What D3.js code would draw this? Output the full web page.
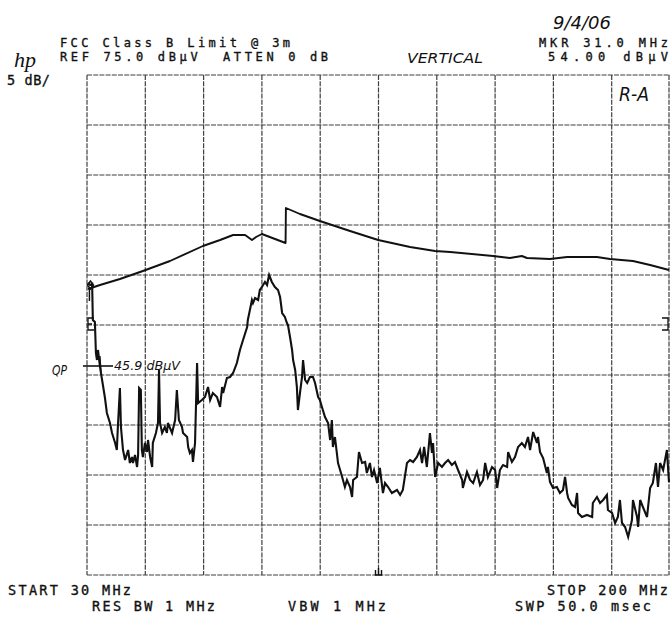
<!DOCTYPE html>
<html>
<head>
<meta charset="utf-8">
<script src="https://cdn.jsdelivr.net/npm/d3@7/dist/d3.min.js"></script>
<style>
  html, body { margin: 0; padding: 0; background: #fff; }
  svg { display: block; }
  .plot { font-family: "DejaVu Sans Mono", monospace; font-size: 13.5px; fill: #111; stroke: #111; stroke-width: 0.35px; }
  .plot.tight { font-size: 12px; }
  .hand { font-family: "DejaVu Sans", sans-serif; font-style: italic; fill: #111; }
</style>
</head>
<body>
<svg id="chart" width="670" height="619"></svg>
<script>
// Sweep settings
const startMHz = 30, stopMHz = 200;
const refLevel = 75, dbPerDiv = 5, divisions = 10;
const markerMHz = 31.0, markerLevel = 54.0;
const qpLevel = 45.9;

// FCC Class B limit (3 m), converted to analyzer input level
const limitFreq = [30.3, 33.8, 39.6, 46.3, 54.2, 63.8, 68.8, 72.6, 76.1, 78.1, 79.3, 81.0, 87.9,
  88.0, 92.1, 97.9, 106.7, 114.9, 124.2, 131.5, 135.9, 148.4, 153.3, 156.8, 158.3, 165.0,
  170.0, 178.7, 182.5, 189.2, 194.2, 199.7];
const limitLevel = [53.6, 54.0, 54.6, 55.4, 56.4, 57.9, 58.5, 59.0, 59.0, 58.5, 58.8, 59.1, 58.2,
  61.7, 61.1, 60.4, 59.4, 58.5, 57.8, 57.4, 57.3, 56.9, 56.7, 56.9, 56.7, 56.6,
  56.8, 56.8, 56.6, 56.4, 56.0, 55.5];

// Measured emission trace, peak detector
const traceFreq = [30.3, 30.9, 31.5, 31.7, 32.3, 32.6, 32.9, 33.2, 33.8, 34.4, 35.2, 35.8, 36.7, 37.3,
  38.2, 38.7, 39.0, 39.6, 39.9, 40.5, 41.1, 42.0, 42.5, 43.1, 43.4, 44.0, 44.6, 44.9, 45.2, 45.7,
  46.0, 46.3, 46.9, 47.5, 47.8, 48.4, 49.0, 49.2, 50.1, 50.7, 51.0, 51.3, 51.9, 52.7, 53.3, 53.6,
  54.8, 55.7, 56.2, 56.8, 57.7, 58.0, 59.2, 59.5, 60.0, 60.6, 60.9, 61.5, 62.1, 62.4, 63.5, 64.4,
  65.3, 65.9, 66.7, 67.9, 68.8, 69.4, 69.7, 70.8, 71.7, 72.6, 73.7, 74.6, 75.5, 76.7, 76.9, 77.5,
  78.1, 78.4, 79.0, 79.9, 80.4, 81.0, 81.9, 82.5, 83.1, 83.9, 84.8, 85.7, 86.3, 86.9, 87.7, 88.3,
  88.6, 89.2, 89.8, 90.1, 90.7, 91.2, 91.5, 92.1, 92.7, 93.0, 93.6, 94.2, 95.0, 95.9, 96.5, 97.4,
  97.9, 98.5, 99.4, 100.3, 100.9, 101.4, 101.7, 102.3, 103.2, 104.4, 105.2, 105.8, 106.7, 107.3,
  107.6, 108.7, 109.3, 110.2, 111.1, 111.6, 112.5, 113.1, 113.7, 114.6, 115.4, 116.3, 116.9, 117.8,
  118.9, 120.4, 121.3, 122.1, 123.3, 124.2, 125.1, 126.2, 127.1, 127.7, 128.3, 129.1, 130.0, 130.6,
  130.9, 131.5, 132.4, 133.5, 134.4, 135.3, 136.4, 137.3, 138.2, 139.4, 139.6, 140.8, 141.7, 142.6,
  143.7, 144.6, 145.5, 146.1, 146.9, 148.1, 149.0, 149.6, 150.4, 151.3, 152.5, 152.8, 153.9, 154.8,
  155.7, 156.8, 157.7, 158.6, 159.2, 160.1, 161.2, 161.5, 162.1, 163.0, 164.1, 164.4, 165.0, 165.9,
  167.0, 167.9, 168.8, 169.4, 170.0, 170.3, 171.4, 172.3, 172.9, 173.2, 174.3, 175.8, 177.3, 177.5,
  178.7, 179.6, 180.5, 181.6, 181.9, 183.1, 184.0, 184.8, 185.4, 186.0, 186.9, 187.8, 188.9, 189.2,
  190.4, 190.7, 191.3, 192.1, 193.3, 194.2, 195.0, 195.9, 196.5, 197.1, 198.0, 199.1, 199.7];
const traceLevel = [54.2, 54.0, 54.1, 50.5, 50.3, 47.2, 46.5, 47.5, 45.8, 44.5, 42.8, 41.2, 40.2, 39.2,
  38.2, 37.5, 39.8, 43.7, 39.8, 37.5, 36.5, 37.5, 36.2, 36.8, 36.2, 37.0, 35.8, 37.0, 43.7, 43.5,
  37.5, 36.8, 38.2, 37.3, 38.5, 36.8, 35.8, 38.2, 39.2, 40.2, 45.5, 40.2, 39.2, 39.8, 39.2, 40.2,
  39.2, 40.5, 43.5, 40.5, 39.8, 39.2, 38.8, 37.8, 37.2, 37.5, 36.3, 38.2, 46.2, 42.2, 42.5, 42.8,
  43.8, 42.5, 43.2, 42.8, 41.8, 43.8, 43.2, 44.7, 44.8, 45.2, 46.2, 47.5, 48.5, 49.8, 50.5, 51.5,
  52.5, 52.2, 52.7, 52.5, 53.5, 53.8, 54.3, 54.0, 55.0, 54.3, 53.8, 53.5, 52.8, 51.2, 50.8, 50.2,
  50.0, 48.8, 47.5, 46.5, 45.5, 43.8, 41.5, 43.2, 44.8, 46.5, 44.5, 44.2, 44.8, 44.8, 44.2, 42.8,
  42.5, 41.8, 40.8, 40.2, 38.5, 40.5, 37.8, 38.8, 36.2, 34.8, 33.8, 34.5, 33.8, 32.8,
  34.5, 34.8, 37.3, 36.2, 36.3, 35.2, 36.2, 34.8, 35.5, 34.2, 35.7, 33.2, 34.2, 33.8,
  33.2, 33.5, 33.0, 33.5, 36.2, 36.5, 36.3, 36.8, 37.5, 36.2, 37.8, 35.8, 39.2, 37.2,
  38.2, 34.8, 36.2, 35.8, 36.2, 36.5, 36.0, 36.3, 35.5, 34.5, 33.7, 35.3, 34.5, 34.2,
  35.3, 34.0, 34.5, 36.2, 34.8, 35.8, 35.5, 33.7, 35.5, 36.0, 35.8, 37.3, 36.3, 36.8,
  37.8, 38.2, 37.8, 38.8, 37.5, 39.3, 38.2, 38.8, 37.3, 36.7, 35.2, 35.8, 34.3, 33.7,
  33.8, 33.2, 33.5, 34.8, 33.2, 32.7, 32.0, 31.8, 33.2, 31.2, 30.8, 31.0, 30.8, 32.2,
  32.8, 32.2, 32.5, 33.0, 31.5, 31.2, 30.2, 30.8, 32.5, 30.2, 29.8, 28.8, 30.5, 32.5,
  30.8, 29.8, 32.5, 31.8, 30.8, 33.7, 34.2, 36.2, 33.8, 36.2, 35.5, 37.5, 34.3];

const svg = d3.select("#chart");
const plot = { left: 87, right: 670, top: 75, bottom: 575 };
const bottomLevel = refLevel - dbPerDiv * divisions;

const x = d3.scaleLinear().domain([startMHz, stopMHz]).range([plot.left, plot.right]);
const y = d3.scaleLinear().domain([bottomLevel, refLevel]).range([plot.bottom, plot.top]);

// Graticule: 10 x 10 divisions, dashed
const fStep = (stopMHz - startMHz) / divisions;
const vLines = d3.range(divisions + 1).map(i => startMHz + i * fStep);
const hLines = d3.range(divisions + 1).map(i => bottomLevel + i * dbPerDiv);

const grid = svg.append("g").attr("stroke", "#111").attr("stroke-width", 1.2)
  .attr("stroke-dasharray", "5 1.2").attr("opacity", 0.8);
grid.selectAll("line.v").data(vLines).join("line").attr("class", "v")
  .attr("x1", d => Math.min(x(d), plot.right - 1)).attr("x2", d => Math.min(x(d), plot.right - 1))
  .attr("y1", plot.top).attr("y2", plot.bottom);
grid.selectAll("line.h").data(hLines).join("line").attr("class", "h")
  .attr("x1", plot.left).attr("x2", plot.right)
  .attr("y1", d => y(d)).attr("y2", d => y(d));

// Centre-frequency tick on the bottom edge
const centre = (startMHz + stopMHz) / 2;
svg.append("path").attr("fill", "none").attr("stroke", "#111").attr("stroke-width", 1.4)
  .attr("d", `M${x(centre) - 3},${plot.bottom - 5}V${plot.bottom}H${x(centre) + 3}V${plot.bottom - 5}M${x(centre)},${plot.bottom - 7}V${plot.bottom}`);

// Display-line brackets on both edges
const brTop = y(50.7), brBot = y(49.5);
svg.append("path").attr("fill", "none").attr("stroke", "#111").attr("stroke-width", 1.3)
  .attr("d", `M${plot.left + 7},${brTop}H${plot.left + 1}V${brBot}H${plot.left + 7}M${plot.left + 1},${(brTop + brBot) / 2}H${plot.left + 5}`);
svg.append("path").attr("fill", "none").attr("stroke", "#111").attr("stroke-width", 1.3)
  .attr("d", `M${plot.right - 8},${brTop}H${plot.right - 2}V${brBot}H${plot.right - 8}`);

// Traces
const line = d3.line().x(d => x(d[0])).y(d => y(d[1]));
svg.append("path").datum(d3.zip(limitFreq, limitLevel))
  .attr("fill", "none").attr("stroke", "#111").attr("stroke-width", 1.9)
  .attr("stroke-linejoin", "round").attr("d", line);
svg.append("path").datum(d3.zip(traceFreq, traceLevel))
  .attr("fill", "none").attr("stroke", "#111").attr("stroke-width", 2.1)
  .attr("stroke-linejoin", "miter").attr("d", line);

// Marker
const mx = x(markerMHz), my = y(markerLevel);
svg.append("path").attr("fill", "none").attr("stroke", "#111").attr("stroke-width", 1.5)
  .attr("d", `M${mx},${my - 4}L${mx + 3},${my}L${mx},${my + 4}L${mx - 3},${my}Z M${mx - 1},${my + 4}V${my + 16}`);

// Quasi-peak reading
const qy = y(qpLevel);
svg.append("line").attr("x1", plot.left - 4).attr("x2", plot.left + 26)
  .attr("y1", qy).attr("y2", qy).attr("stroke", "#111").attr("stroke-width", 1.6);
svg.append("line").attr("x1", plot.left + 13).attr("x2", plot.left + 14)
  .attr("y1", qy - 10).attr("y2", qy + 6).attr("stroke", "#111").attr("stroke-width", 1.3);

// Annotation text
function label(cls, s, x0, yb, w) {
  const t = svg.append("text").attr("class", cls).attr("x", x0).attr("y", yb)
    .attr("xml:space", "preserve").style("white-space", "pre").text(s);
  if (w) t.attr("textLength", w).attr("lengthAdjust", "spacing");
  return t;
}
label("plot tight", "FCC Class B Limit @ 3m", 60, 47, 230);
label("plot tight", "REF 75.0 dBµV  ATTEN 0 dB", 60, 61, 268);
label("plot tight", "MKR 31.0 MHz", 539, 47, 129);
label("plot tight", "54.00 dBµV", 548, 61, 120);
label("plot", "5 dB/", 7, 85, 43);
label("plot", "START 30 MHz", 8, 595, 123);
label("plot", "RES BW 1 MHz", 92, 611, 123);
label("plot", "STOP 200 MHz", 547, 595, 121);
label("plot", "SWP 50.0 msec", 515, 611, 136);
label("plot", "VBW 1 MHz", 288, 611, 98);

svg.append("text").attr("x", 14).attr("y", 67)
  .style("font-family", "'Liberation Serif', serif").style("font-style", "italic")
  .style("font-size", "22px").attr("fill", "#111").text("hp");

function hand(s, x0, yb, w, size) {
  return svg.append("text").attr("class", "hand").attr("x", x0).attr("y", yb)
    .attr("font-size", size).attr("textLength", w).attr("lengthAdjust", "spacingAndGlyphs").text(s);
}
hand("9/4/06", 553, 29, 58, "18px");
hand("VERTICAL", 407, 63, 76, "14px");
hand("R-A", 619, 101, 30, "19px");
hand("QP", 52, 375, 15, "14px");
hand("45.9 dBµV", 114, 370, 66, "12px");
</script>
</body>
</html>
